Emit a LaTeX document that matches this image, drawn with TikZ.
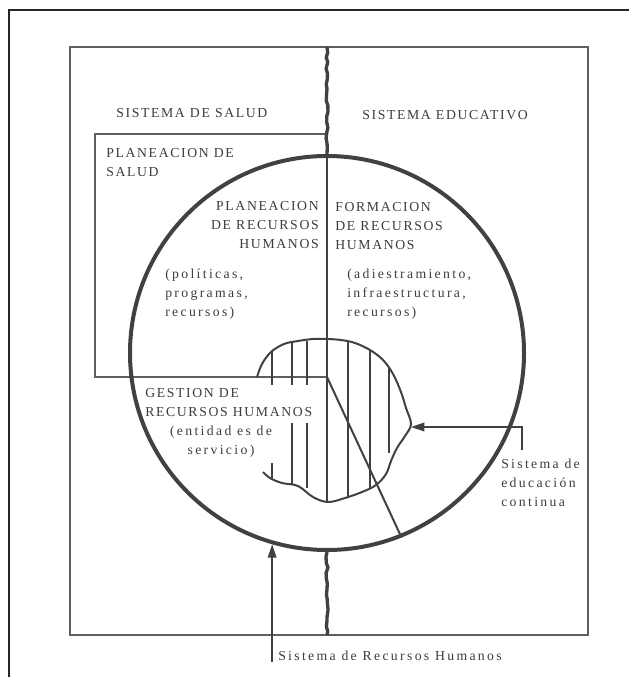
\documentclass[tikz,border=0pt]{standalone}
\usepackage{fontspec}
\setmainfont{Liberation Serif}[LetterSpace=12]
\newfontfamily\lowfont{Liberation Serif}[LetterSpace=17]
\usetikzlibrary{arrows.meta, positioning, calc, decorations.pathmorphing}
\definecolor{ink}{RGB}{65,65,65}
\definecolor{txt}{RGB}{60,60,60}

\begin{document}
\begin{tikzpicture}[
    x=0.75pt, y=-0.75pt,
    frame/.style={draw=black!85, line width=2.2pt},
    box/.style={draw=ink!85, line width=1.1pt},
    wavy/.style={draw=ink, line width=2.5pt, decorate,
        decoration={random steps, segment length=4pt, amplitude=0.8pt}},
    hatch/.style={draw=ink, line width=1.5pt},
    arr/.style={-{Triangle[length=10pt, width=6.5pt]}, draw=ink, line width=1.1pt},
    lbl/.style={inner sep=0pt, text=txt, font=\fontsize{10.3}{14.2}\selectfont},
    low/.style={lbl, font=\fontsize{10.3}{14.2}\selectfont\lowfont}
]
    \useasboundingbox (0,0) rectangle (629,677);

    %% --- Frames ---
    \draw[frame] (9,677) -- (9,10) -- (629,10);
    \draw[box] (70,47) rectangle (588,635);
    \draw[box, line width=1.4pt] (327,134) -- (95,134) -- (95,377) -- (327,377);

    %% --- Human resources system ---
    \node[circle, draw=ink, line width=3pt, minimum size=295.5pt, inner sep=0pt]
        (circ) at (327,353) {};
    \coordinate (ctr) at (327,377);
    \coordinate (blobtip) at (411,427);
    \coordinate (stub) at (522,450);
    \coordinate (srhtail) at (circ.254 |- 0,662);

    %% --- Divider ---
    \draw[wavy] (327,47) -- (circ.north);
    \draw[wavy] (circ.south) -- (327,635);
    \draw[hatch] (circ.north) -- (327,502);
    \draw[hatch] (ctr) -- (circ.292);

    %% --- Continuing education ---
    \draw[hatch] plot[smooth, tension=0.6] coordinates {
        (257,377) (262,364) (271,352) (284,344) (298,341) (313,339) (327,339)
        (341,340) (355,343) (370,350) (383,360) (393,374) (401,392) (406,408)
        (411,424) (405,436) (397,448) (391,461) (386,474) (376,485) (362,492)
        (345,498) (328,502) (313,497) (298,486) (282,483) (270,478) (263,472)};
    \foreach \x/\ya/\yb in {272/352/385, 292/343/385, 307/341/385,
                            272/463/478, 292/423/485, 307/423/488,
                            348/341/497, 370/350/488, 389/367/453}
        \draw[hatch] (\x,\ya) -- (\x,\yb);

    %% --- Labels ---
    \node[lbl, anchor=north west] (sal) at (116,108) {SISTEMA DE SALUD};
    \node[lbl, anchor=north west] (edu) at (362,110) {SISTEMA EDUCATIVO};
    \node[lbl, anchor=north west, align=left] (plsal) at (106,148) {PLANEACION DE\\SALUD};
    \node[lbl, anchor=north east, align=right] (plrh) at (319,201)
        {PLANEACION\\DE RECURSOS\\HUMANOS};
    \node[low, anchor=north west, align=left] (pol) at (165,269)
        {(políticas,\\programas,\\recursos)};
    \node[lbl, anchor=north west, align=left] (frh) at (335,202)
        {FORMACION\\DE RECURSOS\\HUMANOS};
    \node[low, anchor=north west, align=left] (adi) at (347,269)
        {(adiestramiento,\\infraestructura,\\recursos)};
    \node[lbl, anchor=north west, align=left] (grh) at (145,388)
        {GESTION DE\\RECURSOS HUMANOS};
    \node[low, anchor=north, align=center] (ent) at (221,426)
        {(entidad es de\\servicio)};
    \node[low, anchor=north west, align=left] (sec) at (501,459)
        {Sistema de\\educación\\continua};
    \node[low, anchor=north west] (srh) at (278,651) {Sistema de Recursos Humanos};

    %% --- Arrows ---
    \draw[arr] (stub) |- (blobtip);
    \draw[arr] (srhtail) -- (circ.254);
\end{tikzpicture}
\end{document}
